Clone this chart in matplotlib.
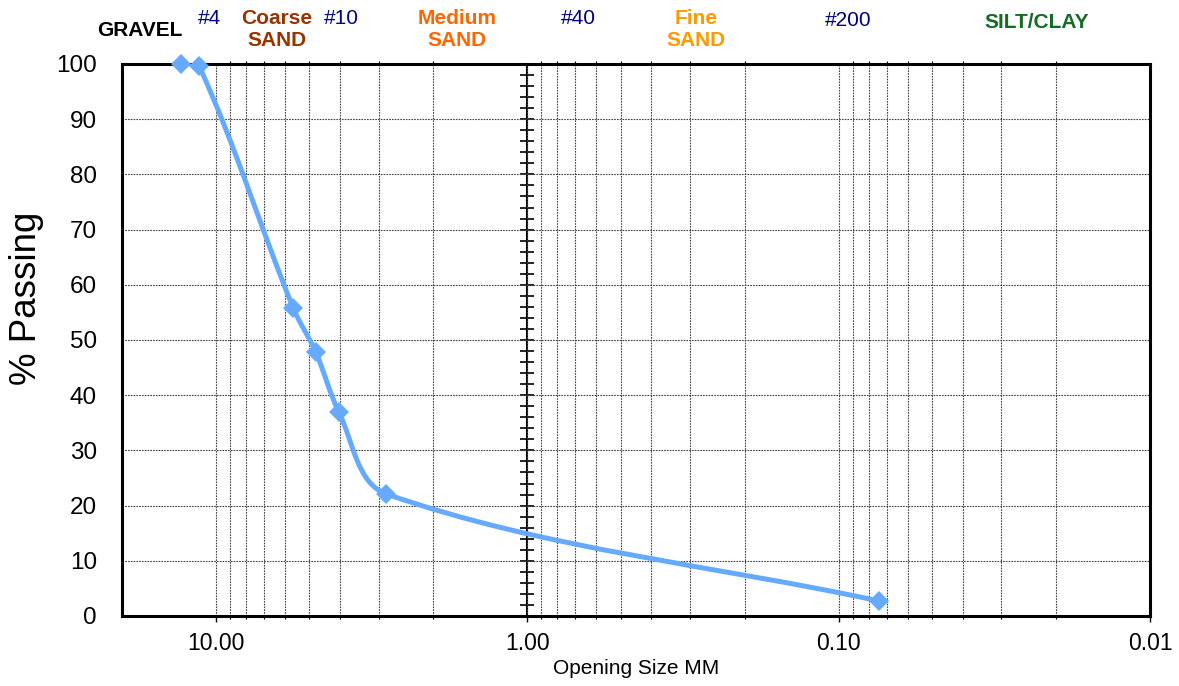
import numpy as np
import matplotlib.pyplot as plt
from matplotlib.path import Path
from matplotlib.patches import PathPatch
from matplotlib.ticker import FixedLocator, MultipleLocator, NullFormatter

plt.rcParams['font.family'] = ['Liberation Sans', 'DejaVu Sans']

# du lieu doc tu hinh
opening_mm = [12.9, 11.3, 5.64, 4.78, 4.02, 2.83, 0.074]
percent_passing = [100, 99.6, 55.8, 47.9, 36.9, 22.1, 2.7]

x_ticks = [10, 1, 0.1, 0.01]
x_tick_labels = ['10.00', '1.00', '0.10', '0.01']
y_ticks = list(range(0, 101, 10))

top_labels = ['GRAVEL', '#4', 'Coarse\nSAND', '#10', 'Medium\nSAND',
              '#40', 'Fine\nSAND', '#200', 'SILT/CLAY']

W, H = 1179, 686
line_color = '#66AAFF'

fig = plt.figure(figsize=(W / 100, H / 100), dpi=100)
ax = fig.add_axes([122 / W, 1 - 616 / H, 1028 / W, 552 / H])

ax.set_xscale('log')
ax.set_xlim(20, 0.01)
ax.set_ylim(0, 100)

ax.set_xticks(x_ticks, labels=x_tick_labels)
minor_x = [k * 10.0 ** d for d in (-2, -1, 0) for k in range(2, 10)]
ax.xaxis.set_minor_locator(FixedLocator(minor_x))
ax.xaxis.set_minor_formatter(NullFormatter())
ax.set_yticks(y_ticks)

ax.grid(True, which='both', axis='x', color='#444444', linestyle=(0, (1.5, 1)), linewidth=0.8)
ax.grid(True, which='major', axis='y', color='#444444', linestyle=(0, (1.5, 1)), linewidth=0.8)
ax.set_axisbelow(True)

for s in ax.spines.values():
    s.set_linewidth(2.2)

ax.tick_params(axis='x', which='major', direction='out', length=4.5, width=1, labelsize=16.5, pad=7, top=False)
ax.tick_params(axis='x', which='minor', direction='out', length=2.5, width=0.8, top=True)
ax.tick_params(axis='y', which='major', length=0, labelsize=17.5, pad=18)

# truc doc di qua 1.00
frac = ax.transAxes.inverted().transform(ax.transData.transform((1.0, 0)))[0]
sec = ax.secondary_yaxis(frac)
sec.set_yticks(y_ticks)
sec.yaxis.set_minor_locator(MultipleLocator(2))
sec.tick_params(which='both', direction='inout', length=10, width=1.2, labelleft=False, labelright=False)
sec.spines['left'].set_linewidth(1.5)

# duong cong kieu Excel (Bezier) qua cac diem
pts = ax.transData.transform(np.column_stack([opening_mm, percent_passing]))
n = len(pts)
tang = []
for i in range(n):
    a = pts[max(i - 1, 0)]
    b = pts[min(i + 1, n - 1)]
    t = b - a
    tang.append(t / np.linalg.norm(t))
verts = [pts[0]]
codes = [Path.MOVETO]
for i in range(n - 1):
    L = np.linalg.norm(pts[i + 1] - pts[i])
    verts += [pts[i] + tang[i] * L / 3, pts[i + 1] - tang[i + 1] * L / 3, pts[i + 1]]
    codes += [Path.CURVE4] * 3
verts = ax.transData.inverted().transform(np.array(verts))
ax.add_patch(PathPatch(Path(verts, codes), facecolor='none', edgecolor=line_color,
                       linewidth=3.6, capstyle='round', joinstyle='round', zorder=3))
ax.plot(opening_mm, percent_passing, linestyle='none', marker='D', markersize=10,
        color=line_color, markeredgewidth=0, zorder=4, clip_on=False)

fig.text(27 / W, 1 - 298 / H, '% Passing', rotation=90, ha='center', va='center', fontsize=26.5)
ax.set_xlabel('Opening Size MM', fontsize=15, labelpad=3)

# nhan phia tren
label_pos = [(140, 31), (210, 19), (277, 29.5), (341, 19), (457, 29.5),
             (578, 19), (696, 29.5), (848, 21), (1037, 22)]
label_color = ['black', '#000080', '#993300', '#000080', '#FF6600',
               '#000080', '#FF9900', '#000080', '#166B27']
label_bold = [True, False, True, False, True, False, True, False, True]
for txt, (px, py), c, b in zip(top_labels, label_pos, label_color, label_bold):
    fig.text(px / W, 1 - py / H, txt, ha='center', va='center', color=c,
             fontsize=15, fontweight='bold' if b else 'normal', multialignment='center')

plt.savefig('out.png', dpi=100)
